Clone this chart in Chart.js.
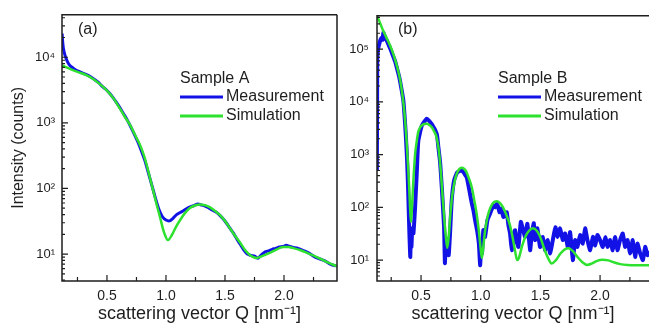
<!DOCTYPE html>
<html>
<head>
<meta charset="utf-8">
<script src="https://cdn.jsdelivr.net/npm/chart.js@4.4.1/dist/chart.umd.min.js"></script>
<style>
  html, body { margin: 0; padding: 0; background: #fff; overflow: hidden; }
  #wrap { position: relative; width: 649px; height: 329px; }
  #chartA { position: absolute; left: 0; top: 0; }
  #chartB { position: absolute; left: 340px; top: 0; }
</style>
</head>
<body>
<div id="wrap">
  <canvas id="chartA" width="340" height="329"></canvas>
  <canvas id="chartB" width="309" height="329"></canvas>
</div>
<script>
// Panel (a), sample A
const qA_meas = [0.12, 0.125, 0.13, 0.14, 0.15, 0.165, 0.18, 0.20, 0.22, 0.25, 0.28, 0.31, 0.34, 0.37, 0.40, 0.43, 0.46, 0.49, 0.52, 0.55, 0.58, 0.61, 0.64, 0.67, 0.70, 0.73, 0.76, 0.79, 0.82, 0.85, 0.88, 0.91, 0.94, 0.97, 1.00, 1.03, 1.06, 1.09, 1.12, 1.15, 1.18, 1.21, 1.24, 1.27, 1.30, 1.33, 1.36, 1.39, 1.42, 1.45, 1.48, 1.51, 1.54, 1.57, 1.60, 1.63, 1.66, 1.69, 1.72, 1.75, 1.78, 1.81, 1.84, 1.87, 1.90, 1.93, 1.96, 1.99, 2.02, 2.05, 2.08, 2.11, 2.14, 2.17, 2.20, 2.23, 2.26, 2.29, 2.32, 2.35, 2.38, 2.41, 2.44];
const iA_meas = [23000, 17000, 14000, 11500, 10000, 8600, 7700, 7100, 6700, 6200, 5900, 5600, 5300, 4900, 4500, 4100, 3600, 3250, 2850, 2450, 2050, 1700, 1380, 1120, 880, 680, 520, 380, 270, 175, 112, 72, 48, 37, 33, 32, 35, 40, 43, 46, 50, 53, 55, 58, 56, 54, 51, 47, 44, 40, 35, 30, 25, 21, 17, 14, 11.5, 10, 9.5, 9.3, 8.6, 9.8, 10.8, 11.2, 11.8, 12.2, 12.8, 13.0, 13.6, 13.0, 12.6, 12.4, 11.8, 11.2, 10.6, 9.8, 9.0, 8.6, 8.2, 7.8, 7.2, 6.8, 6.6];
const qA_sim = [0.12, 0.20, 0.25, 0.33, 0.38, 0.44, 0.50, 0.56, 0.61, 0.65, 0.70, 0.74, 0.78, 0.81, 0.836, 0.86, 0.89, 0.92, 0.95, 0.985, 1.017, 1.05, 1.085, 1.12, 1.16, 1.20, 1.245, 1.29, 1.33, 1.37, 1.415, 1.46, 1.50, 1.54, 1.585, 1.63, 1.67, 1.71, 1.77, 1.82, 1.88, 1.94, 1.99, 2.04, 2.08, 2.14, 2.20, 2.26, 2.31, 2.36, 2.42, 2.45];
const iA_sim = [7500, 6500, 6000, 5300, 4700, 3900, 3100, 2300, 1650, 1250, 900, 640, 460, 330, 230, 155, 95, 58, 36, 21, 16.3, 19.5, 26, 33, 42, 50, 55, 57, 55.5, 52, 45.5, 39, 32, 25, 19, 14.7, 11.5, 9.7, 8.7, 9.4, 10.4, 11.8, 12.8, 12.8, 12.3, 11.4, 10.3, 9.3, 8.4, 7.6, 6.8, 6.5];

// Panel (b), sample B
const qB_meas = [0.130, 0.133, 0.140, 0.150, 0.160, 0.170, 0.178, 0.184, 0.195, 0.210, 0.225, 0.240, 0.260, 0.282, 0.300, 0.318, 0.335, 0.352, 0.366, 0.374, 0.383, 0.391, 0.398, 0.404, 0.410, 0.415, 0.420, 0.426, 0.436, 0.450, 0.464, 0.477, 0.506, 0.548, 0.590, 0.632, 0.645, 0.660, 0.674, 0.685, 0.693, 0.700, 0.707, 0.715, 0.724, 0.732, 0.743, 0.757, 0.777, 0.804, 0.841, 0.865, 0.883, 0.905, 0.925, 0.940, 0.953, 0.972, 0.985, 0.995, 1.003, 1.011, 1.022, 1.036, 1.056, 1.078, 1.095, 1.106, 1.120, 1.134, 1.145, 1.156, 1.170, 1.190, 1.204, 1.218, 1.232, 1.246, 1.260, 1.275, 1.288, 1.302, 1.316, 1.336, 1.352, 1.372, 1.391, 1.414, 1.428, 1.445, 1.456, 1.475, 1.497, 1.520, 1.539, 1.562, 1.581, 1.604, 1.626, 1.643, 1.665, 1.688, 1.707, 1.730, 1.749, 1.772, 1.791, 1.810, 1.833, 1.855, 1.875, 1.894, 1.917, 1.940, 1.959, 1.978, 2.000, 2.023, 2.045, 2.062, 2.084, 2.106, 2.126, 2.145, 2.168, 2.190, 2.210, 2.230, 2.252, 2.274, 2.294, 2.313, 2.336, 2.359, 2.378, 2.397, 2.410];
const iB_meas = [500, 60000, 100000, 125000, 150000, 165000, 150000, 205000, 175000, 150000, 125000, 105000, 80000, 59000, 42000, 29000, 18000, 10500, 4000, 2000, 800, 250, 70, 25, 11.5, 35, 18, 40, 32, 100, 440, 1800, 3500, 4800, 3800, 2450, 1400, 700, 240, 90, 42, 8.8, 20, 15, 25, 12.4, 32, 135, 325, 465, 500, 430, 370, 210, 120, 85, 57, 34, 20, 8, 16, 13.4, 37, 27.5, 57, 76, 95, 110, 100, 117, 105, 81, 95, 66, 72, 81, 46, 32, 15.4, 30, 37, 22, 17.8, 53, 40, 27.5, 49, 15.4, 32, 50, 24, 40, 17.8, 27.5, 15.4, 24, 13.4, 24, 42, 27.5, 40, 24, 32, 17.8, 34, 10, 24, 17.8, 30, 20.6, 40, 24, 15.4, 27.5, 19, 30, 24, 17.8, 27.5, 17.8, 24, 15.4, 27.5, 15.4, 24, 32, 17.8, 24, 13.4, 24, 11.5, 20.6, 13.4, 10, 17.8, 12.4, 15];
const qB_sim = [0.125, 0.15, 0.18, 0.21, 0.24, 0.27, 0.30, 0.325, 0.345, 0.36, 0.37, 0.38, 0.39, 0.40, 0.408, 0.416, 0.424, 0.436, 0.450, 0.464, 0.475, 0.49, 0.506, 0.527, 0.548, 0.57, 0.59, 0.61, 0.632, 0.65, 0.665, 0.68, 0.695, 0.708, 0.72, 0.733, 0.745, 0.76, 0.78, 0.80, 0.82, 0.84, 0.86, 0.88, 0.90, 0.925, 0.945, 0.965, 0.985, 1.0, 1.01, 1.022, 1.036, 1.051, 1.07, 1.093, 1.115, 1.135, 1.16, 1.187, 1.215, 1.246, 1.27, 1.29, 1.305, 1.32, 1.345, 1.375, 1.405, 1.437, 1.47, 1.50, 1.53, 1.56, 1.595, 1.63, 1.67, 1.705, 1.735, 1.77, 1.81, 1.85, 1.89, 1.93, 1.97, 2.02, 2.07, 2.12, 2.17, 2.23, 2.30, 2.41];
const iB_sim = [460000, 340000, 230000, 165000, 118000, 78000, 46000, 26000, 13000, 6500, 3500, 1700, 700, 260, 100, 53, 100, 330, 1000, 1800, 2600, 3200, 3560, 3800, 3850, 3650, 3300, 2750, 2050, 1150, 500, 170, 60, 28, 17, 30, 70, 160, 300, 440, 530, 565, 540, 470, 360, 240, 140, 78, 35, 16, 11, 18, 35, 57, 85, 112, 127, 131, 122, 100, 72, 45, 25, 14, 10, 11, 18, 28, 36, 40, 36, 27, 17, 11.5, 8.6, 10, 13.5, 16, 16.8, 15, 11.5, 9.2, 8.1, 8.6, 9.6, 10.2, 9.9, 9.0, 8.4, 8.1, 8.0, 8.0];

// Axis ticks
const xMajor = [0.5, 1.0, 1.5, 2.0];
const xMinor = [0.25, 0.75, 1.25, 1.75, 2.25];
const yDecadesA = [1, 2, 3, 4];
const yDecadesB = [1, 2, 3, 4, 5];
const yLabels = ['10⁰', '10¹', '10²', '10³', '10⁴', '10⁵'];
const minorMult = [2, 3, 4, 5, 6, 7, 8, 9];

const BLUE = '#1212e6';
const GREEN = '#2fe12f';
const INK = '#1e1e1e';

Chart.defaults.font.family = "'Liberation Sans', Arial, sans-serif";
Chart.defaults.color = INK;

const pts = (q, v) => q.map((x, k) => ({x: x, y: v[k]}));

function logTicksFor(decades) {
  return scale => {
    const t = [];
    for (let e = decades[0] - 1; e <= decades[decades.length - 1]; e++) {
      [1].concat(minorMult).forEach(m => {
        const v = m * Math.pow(10, e);
        if (v >= scale.min && v <= scale.max) t.push({value: v});
      });
    }
    scale.ticks = t;
  };
}

function isDecade(v) {
  const e = Math.round(Math.log10(v));
  return Math.abs(v - Math.pow(10, e)) < v * 1e-9;
}

// frame, inward ticks, panel tag and legend
const panelDeco = {
  id: 'panelDeco',
  afterDatasetsDraw(chart, args, o) {
    const {ctx, chartArea: a, scales: {x, y}} = chart;
    ctx.save();
    ctx.strokeStyle = INK;
    ctx.lineWidth = 1.5;
    ctx.beginPath();
    ctx.moveTo(a.right, a.top);
    ctx.lineTo(a.left, a.top);
    ctx.lineTo(a.left, a.bottom);
    ctx.lineTo(a.right, a.bottom);
    if (o.rightBorder) ctx.lineTo(a.right, a.top);
    ctx.stroke();

    ctx.lineWidth = 1.2;
    ctx.beginPath();
    x.ticks.forEach(t => {
      const px = x.getPixelForValue(t.value);
      const len = xMajor.includes(t.value) ? 6 : 4;
      ctx.moveTo(px, a.bottom);
      ctx.lineTo(px, a.bottom - len);
    });
    y.ticks.forEach(t => {
      const py = y.getPixelForValue(t.value);
      const len = isDecade(t.value) ? 6 : 3;
      ctx.moveTo(a.left, py);
      ctx.lineTo(a.left + len, py);
    });
    ctx.stroke();

    ctx.fillStyle = INK;
    ctx.font = "16px 'Liberation Sans', Arial, sans-serif";
    ctx.textBaseline = 'middle';
    ctx.textAlign = 'left';
    ctx.fillText(o.tag, o.tagX, 30);

    // legend
    ctx.fillText(o.legendTitle, o.legX, 79);
    const rows = [97, 116];
    chart.data.datasets.slice().sort((p, q) => p.legendRow - q.legendRow).forEach((ds, k) => {
      ctx.strokeStyle = ds.borderColor;
      ctx.lineWidth = 3;
      ctx.beginPath();
      ctx.moveTo(o.legX, rows[k]);
      ctx.lineTo(o.legX + 43, rows[k]);
      ctx.stroke();
      ctx.fillText(ds.label, o.legX + 46, rows[k]);
    });
    ctx.restore();
  }
};

function makeChart(id, cfg) {
  return new Chart(document.getElementById(id), {
    type: 'line',
    data: {
      datasets: [
        {label: 'Simulation', data: cfg.sim, borderColor: GREEN, borderWidth: 2.5, pointRadius: 0,
         cubicInterpolationMode: 'monotone', order: 0, legendRow: 1},
        {label: 'Measurement', data: cfg.meas, borderColor: BLUE, borderWidth: cfg.measWidth, pointRadius: 0,
         tension: 0.15, order: 1, legendRow: 0}
      ]
    },
    options: {
      responsive: false,
      animation: false,
      layout: {padding: cfg.padding},
      plugins: {
        legend: {display: false},
        tooltip: {enabled: false},
        panelDeco: cfg.deco
      },
      scales: {
        x: {
          type: 'linear',
          min: cfg.xMin, max: cfg.xMax,
          grid: {display: false, drawTicks: false},
          border: {display: false},
          afterBuildTicks: s => { s.ticks = xMinor.concat(xMajor).sort((p, q) => p - q).map(v => ({value: v})); },
          afterFit: s => { s.height = 48; },
          ticks: {
            autoSkip: false, maxRotation: 0, padding: 7,
            font: {size: 14},
            callback: v => xMajor.includes(v) ? v.toFixed(1) : ''
          },
          title: {display: true, text: 'scattering vector Q [nm⁻¹]', font: {size: 18}, padding: {top: 0, bottom: 4}}
        },
        y: {
          type: 'logarithmic',
          min: cfg.yMin, max: cfg.yMax,
          grid: {display: false, drawTicks: false},
          border: {display: false},
          afterBuildTicks: logTicksFor(cfg.decades),
          afterFit: s => { s.width = cfg.yWidth; },
          ticks: {
            autoSkip: false, padding: cfg.yPad,
            font: {size: 13},
            callback: v => isDecade(v) ? yLabels[Math.round(Math.log10(v))] : ''
          },
          title: {display: cfg.yTitle, text: 'Intensity (counts)', font: {size: 16}, padding: {top: 9, bottom: 0}}
        }
      }
    },
    plugins: [panelDeco]
  });
}

makeChart('chartA', {
  meas: pts(qA_meas, iA_meas), sim: pts(qA_sim, iA_sim), measWidth: 3,
  xMin: 0.119, xMax: 2.449, yMin: 3.88, yMax: 44400, decades: yDecadesA,
  yWidth: 62, yPad: 7, yTitle: true,
  padding: {left: 0, top: 14, right: 3, bottom: 0},
  deco: {tag: '(a)', tagX: 78, legendTitle: 'Sample A', legX: 180, rightBorder: true}
});

makeChart('chartB', {
  meas: pts(qB_meas, iB_meas), sim: pts(qB_sim, iB_sim), measWidth: 4,
  xMin: 0.131, xMax: 2.41, yMin: 4.02, yMax: 428000, decades: yDecadesB,
  yWidth: 37, yPad: 8, yTitle: false,
  padding: {left: 0, top: 14, right: 0, bottom: 0},
  deco: {tag: '(b)', tagX: 58, legendTitle: 'Sample B', legX: 158, rightBorder: false}
});
</script>
</body>
</html>
